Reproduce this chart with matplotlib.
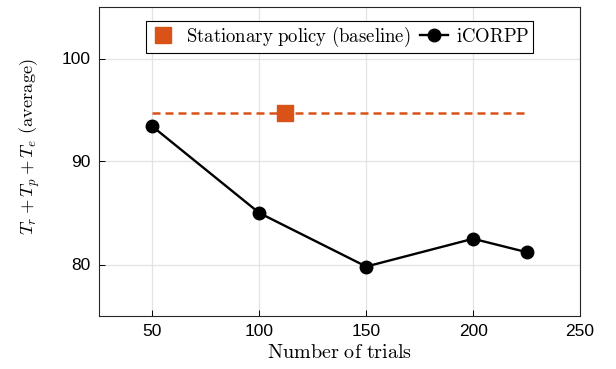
import matplotlib
matplotlib.use("Agg")
import matplotlib.pyplot as plt

trials = [50, 100, 150, 200, 225]
icorpp = [93.4, 85.0, 79.8, 82.5, 81.2]
baseline_x = [50, 225]
baseline_y = [94.7, 94.7]
baseline_marker_x = [112]
baseline_marker_y = [94.7]

plt.rcParams['mathtext.fontset'] = 'cm'
plt.rcParams['font.family'] = ['Liberation Sans', 'DejaVu Sans']

fig = plt.figure(figsize=(6.16, 3.69), dpi=100)
ax = fig.add_axes([99/616, 1-316/369, (580-99)/616, (316-7)/369])

orange = '#D95319'
ax.plot(baseline_x, baseline_y, ls='--', color=orange, lw=1.8, dashes=(3.2, 2.0))
ax.plot(baseline_marker_x, baseline_marker_y, ls='none', color=orange, marker='s', ms=11,
        label=r'$\mathrm{Stationary\ policy\ (baseline)}$')
ax.plot(trials, icorpp, color='black', lw=1.7, marker='o', ms=9, label=r'$\mathrm{iCORPP}$')

ax.set_xlim(25, 250)
ax.set_ylim(75, 105)
ax.set_xticks([50, 100, 150, 200, 250])
ax.set_yticks([80, 90, 100])
ax.grid(True, color='#e3e3e3', lw=0.9)
ax.set_axisbelow(True)
ax.tick_params(direction='in', labelsize=12.5, length=4, width=0.7, pad=6)
for s in ax.spines.values():
    s.set_linewidth(0.8)
    s.set_color('#262626')

ax.set_xlabel(r'$\mathrm{Number\ of\ trials}$', fontsize=14.5, labelpad=3)
ax.set_ylabel(r'$T_r+T_p+T_e\ \mathrm{(average)}$', fontsize=13.3)
ax.yaxis.set_label_coords(-0.118, 0.55)

leg = ax.legend(loc='upper center', ncol=2, fontsize=13.5, frameon=True, fancybox=False,
                edgecolor='black', framealpha=1, borderpad=0.2, handlelength=1.5,
                handletextpad=0.45, columnspacing=0.5, bbox_to_anchor=(0.5, 0.985))
leg.get_frame().set_linewidth(0.8)

fig.savefig('out.png', dpi=100)
